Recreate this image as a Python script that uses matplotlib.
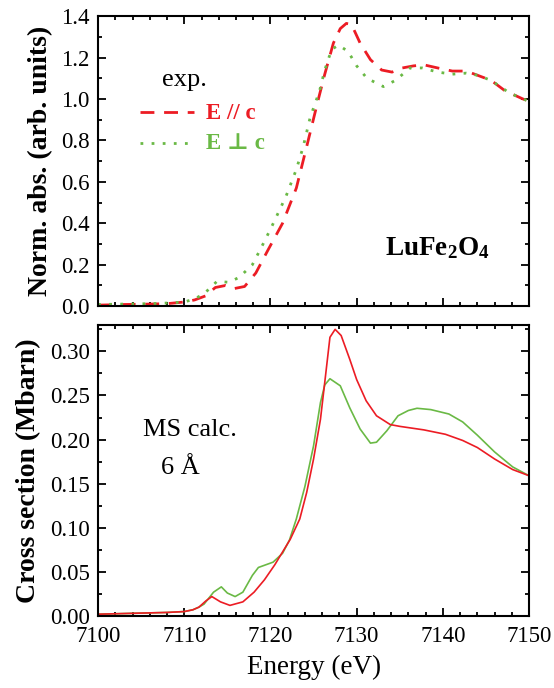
import numpy as np
import matplotlib
matplotlib.use("Agg")
import matplotlib.pyplot as plt
from matplotlib.ticker import MultipleLocator, FormatStrFormatter

plt.rcParams['font.family'] = ['Liberation Serif', 'DejaVu Serif']
plt.rcParams['mathtext.fontset'] = 'custom'
plt.rcParams['mathtext.rm'] = 'Liberation Serif'
plt.rcParams['mathtext.bf'] = 'Liberation Serif:bold'

RED = '#ec1c24'
GREEN = '#6ab945'

# experiment, E // c
exp_par_e = [7100, 7103, 7106, 7108, 7110, 7111.2, 7112.5, 7113.6, 7114.8, 7115.8, 7117.0, 7118.3,
             7119.7, 7121.4, 7123.0, 7124.2, 7125.5, 7126.3, 7127.3, 7128.1, 7128.8, 7129.4,
             7130.4, 7131.6, 7132.9, 7134.1, 7135.3, 7136.6, 7137.8, 7139.4, 7141.1, 7142.7,
             7144.0, 7145.6, 7147.2, 7149.3, 7150]
exp_par_y = [0.005, 0.008, 0.01, 0.012, 0.02, 0.03, 0.05, 0.09, 0.10, 0.085, 0.095, 0.16,
             0.27, 0.40, 0.57, 0.77, 0.99, 1.12, 1.27, 1.34, 1.365, 1.36,
             1.27, 1.19, 1.14, 1.13, 1.15, 1.16, 1.165, 1.15, 1.135, 1.135,
             1.115, 1.09, 1.04, 1.0, 0.99]

# experiment, E perp c
exp_perp_e = [7100, 7103, 7106, 7108, 7110, 7111.2, 7112.3, 7113.8, 7115.2, 7116.4, 7117.9, 7118.9,
              7120.1, 7121.8, 7123.0, 7123.8, 7124.6, 7125.7, 7126.3, 7127.1, 7127.9, 7129.0,
              7130.0, 7131.2, 7133.1, 7134.5, 7136.2, 7137.6, 7139.4, 7141.1, 7142.7, 7144.0,
              7145.6, 7147.7, 7149.3, 7150]
exp_perp_y = [0.008, 0.01, 0.012, 0.015, 0.02, 0.035, 0.06, 0.12, 0.115, 0.14, 0.20, 0.28,
              0.38, 0.53, 0.66, 0.77, 0.91, 1.04, 1.14, 1.24, 1.26, 1.23,
              1.16, 1.10, 1.06, 1.09, 1.15, 1.15, 1.13, 1.12, 1.125, 1.115,
              1.09, 1.03, 1.0, 0.99]

# MS calculation, red
calc_red_e = [7100, 7104, 7108, 7110, 7111, 7111.7, 7112.5, 7113.2, 7114.2, 7115.3, 7116.8, 7118.1,
              7119.3, 7120.5, 7122.3, 7123.4, 7124.2, 7125.0, 7125.8, 7126.3, 7126.9, 7127.5,
              7128.2, 7129.2, 7130.0, 7131.1, 7132.3, 7133.9, 7135.0, 7137.8, 7140.3, 7142.3,
              7144.0, 7146.0, 7148.1, 7150]
calc_red_y = [0.002, 0.003, 0.004, 0.005, 0.007, 0.010, 0.017, 0.022, 0.016, 0.012, 0.016, 0.027,
              0.041, 0.058, 0.087, 0.110, 0.140, 0.178, 0.223, 0.265, 0.316, 0.325,
              0.318, 0.291, 0.268, 0.244, 0.227, 0.217, 0.215, 0.211, 0.206, 0.199,
              0.191, 0.178, 0.166, 0.159]

# MS calculation, green
calc_green_e = [7100, 7104, 7108, 7110, 7111, 7111.7, 7112.3, 7113.4, 7114.3, 7115.0, 7115.9, 7116.8,
                7117.9, 7118.6, 7120.3, 7121.4, 7122.2, 7123.0, 7124.0, 7125.0, 7125.8, 7126.3,
                7126.9, 7128.1, 7129.2, 7130.4, 7131.6, 7132.3, 7133.5, 7134.8, 7136.0, 7137.0,
                7138.6, 7140.7, 7142.3, 7144.0, 7146.0, 7148.1, 7150]
calc_green_y = [0.002, 0.003, 0.004, 0.005, 0.007, 0.010, 0.0135, 0.027, 0.033, 0.026, 0.022, 0.027,
                0.046, 0.055, 0.061, 0.071, 0.086, 0.110, 0.147, 0.193, 0.242, 0.262,
                0.269, 0.261, 0.236, 0.212, 0.196, 0.197, 0.210, 0.227, 0.233, 0.2355,
                0.234, 0.229, 0.220, 0.205, 0.186, 0.169, 0.159]

fig = plt.figure(figsize=(5.54, 6.88), dpi=100)
ax1 = fig.add_axes([0.177, 0.555, 0.778, 0.4215])
ax2 = fig.add_axes([0.177, 0.1047, 0.778, 0.423])

ax1.plot(exp_par_e, exp_par_y, color=RED, lw=2.0, dashes=(5, 3.5))
ax1.plot(exp_perp_e, exp_perp_y, color=GREEN, lw=2.0, ls=(0, (1, 3)))

ax2.plot(calc_green_e, calc_green_y, color=GREEN, lw=1.2)
ax2.plot(calc_red_e, calc_red_y, color=RED, lw=1.2)

for ax in (ax1, ax2):
    ax.set_xlim(7100, 7150)
    ax.xaxis.set_major_locator(MultipleLocator(10))
    ax.xaxis.set_minor_locator(MultipleLocator(2))
    ax.tick_params(which='both', direction='in', top=True, right=True, width=1.3,
                   labelsize=16.5)
    ax.tick_params(axis='y', pad=6)
    ax.tick_params(axis='x', pad=7)
    ax.tick_params(which='major', length=6)
    ax.tick_params(which='minor', length=3)
    for s in ax.spines.values():
        s.set_linewidth(1.5)

ax1.set_ylim(0, 1.4)
ax1.yaxis.set_major_locator(MultipleLocator(0.2))
ax1.yaxis.set_minor_locator(MultipleLocator(0.1))
ax1.yaxis.set_major_formatter(FormatStrFormatter('%.1f'))
ax1.tick_params(labelbottom=False)
ax1.set_ylabel('Norm. abs. (arb. units)', fontsize=20, fontweight='bold', labelpad=6)

ax2.set_ylim(0, 0.33)
ax2.yaxis.set_major_locator(MultipleLocator(0.05))
ax2.yaxis.set_minor_locator(MultipleLocator(0.025))
ax2.yaxis.set_major_formatter(FormatStrFormatter('%.2f'))
ax2.set_ylabel('Cross section (Mbarn)', fontsize=20, fontweight='bold', labelpad=6)
ax2.set_xlabel('Energy (eV)', fontsize=19.5, labelpad=6)

# legend drawn by hand to mimic the original
ax1.text(0.148, 0.78, 'exp.', transform=ax1.transAxes, fontsize=19, ha='left', va='center')
ax1.plot([0.097, 0.222], [0.669, 0.669], transform=ax1.transAxes, color=RED, lw=2.0, dashes=(5, 3.5))
ax1.plot([0.097, 0.222], [0.562, 0.562], transform=ax1.transAxes, color=GREEN, lw=2.0, ls=(0, (1, 3)))
ax1.text(0.25, 0.665, 'E // c', transform=ax1.transAxes, fontsize=16.5, fontweight='bold',
         color=RED, ha='left', va='center')
ax1.text(0.25, 0.56, 'E \u22a5 c', transform=ax1.transAxes, fontsize=16.5, fontweight='bold',
         color=GREEN, ha='left', va='center', family=['Liberation Serif', 'DejaVu Serif'])

ax1.text(0.787, 0.2, r'$\mathbf{LuFe_2O_4}$', transform=ax1.transAxes, fontsize=19.5,
         ha='center', va='center')

ax2.text(0.104, 0.64, 'MS calc.', transform=ax2.transAxes, fontsize=19, ha='left', va='center')
ax2.text(0.146, 0.51, '6 \u00c5', transform=ax2.transAxes, fontsize=19, ha='left', va='center')

fig.savefig('out.png', dpi=100)
